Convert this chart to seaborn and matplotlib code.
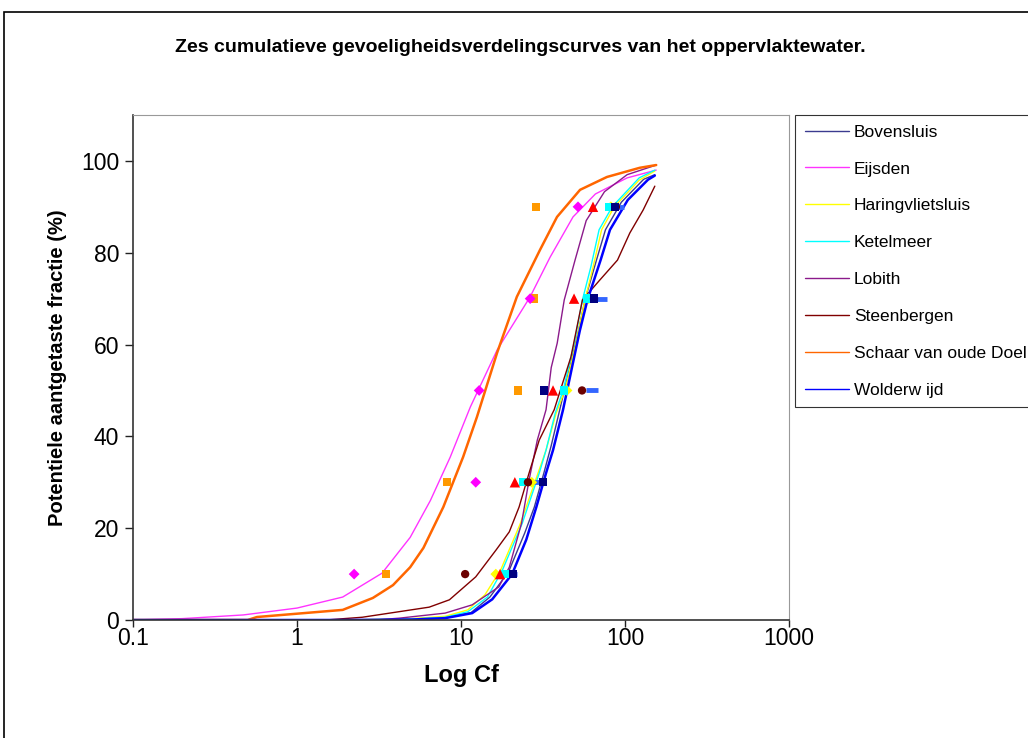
import numpy as np
import pandas as pd
import matplotlib
matplotlib.use("Agg")
import matplotlib.pyplot as plt
import seaborn as sns
from matplotlib.patches import Rectangle

# ---------------- data ----------------
title = "Zes cumulatieve gevoeligheidsverdelingscurves van het oppervlaktewater."
xlabel = "Log Cf"
ylabel = "Potentiele aantgetaste fractie (%)"
stations = ["Bovensluis", "Eijsden", "Haringvlietsluis", "Ketelmeer", "Lobith",
            "Steenbergen", "Schaar van oude Doel", "Wolderw ijd"]

bovensluis_x = [0.1, 2, 5, 8, 11.5, 15, 19.5, 24.5, 28, 32, 35.5, 40, 46, 52, 57, 67, 76, 95, 130, 152]
bovensluis_y = [0, 0, 0.1, 0.5, 1.6, 5, 10.5, 19, 24.6, 32, 38, 45.8, 55, 63, 69.7, 78.4, 85, 91, 96, 97]

eijsden_x = [0.1, 0.2, 0.47, 1.0, 1.9, 3.3, 4.9, 6.5, 8.6, 11.4, 16.6, 26.4, 34.9, 48.2, 66, 103, 155]
eijsden_y = [0, 0.3, 1.1, 2.6, 5, 10.2, 18, 26, 35.5, 46.4, 58.8, 70.4, 79, 87.8, 92.8, 96.3, 98]

haringvliet_x = [0.1, 2, 5, 8, 11, 14, 17.5, 23, 29.5, 33, 38, 43, 50, 57, 64, 72, 86, 122, 152]
haringvliet_y = [0, 0, 0.3, 0.8, 2.2, 5.5, 11, 21, 32, 37, 45, 50, 60, 69.7, 77, 85, 90, 95.8, 97.8]

ketelmeer_x = [0.1, 2, 5, 8, 11, 14.5, 17.9, 23.6, 30, 33, 37.5, 42, 49, 55, 62, 69.5, 83.5, 122, 152]
ketelmeer_y = [0, 0, 0.2, 0.6, 1.8, 5, 10.9, 21, 32, 37, 45, 50.1, 60.3, 69.7, 77, 85, 90, 96.3, 98]

lobith_x = [0.1, 3, 4.2, 8, 11.7, 17, 19.7, 23.4, 26, 29.2, 33, 35.5, 38.6, 42.6, 49.6, 58, 75, 103, 152]
lobith_y = [0, 0, 0.4, 1.5, 3.3, 7.2, 11.5, 21.1, 30.5, 39.2, 45.8, 55, 60.3, 69.7, 78.4, 87, 93.3, 97, 99]

steenbergen_x = [0.1, 1.5, 2.5, 6.4, 8.5, 12.3, 16.4, 19.7, 22.6, 26, 30, 37, 46.8, 55, 70, 90, 107, 129, 152]
steenbergen_y = [0, 0, 0.6, 2.8, 4.4, 9.4, 15.3, 19.2, 24.6, 32, 39.2, 45.8, 57.3, 69.7, 74, 78.4, 84.3, 89.3, 94.5]

schaar_x = [0.1, 0.5, 0.57, 1.9, 2.9, 3.85, 4.9, 5.9, 7.8, 10.3, 12.5, 16.6, 21.9, 30.3, 38.5, 53.2, 77.6, 123, 155]
schaar_y = [0, 0, 0.65, 2.2, 4.8, 7.6, 11.5, 15.7, 24.6, 35.5, 44.2, 58.2, 70.4, 80.6, 87.8, 93.7, 96.5, 98.5, 99.1]

wolderwijd_x = [0.1, 2, 5, 8, 11.7, 15.5, 20.5, 25, 28.8, 33, 36.4, 41.9, 47.5, 53, 59, 71, 81, 104, 138, 152]
wolderwijd_y = [0, 0, 0.1, 0.4, 1.5, 4.5, 10, 17.5, 24.6, 32, 37, 45.8, 55, 63, 69.7, 78.4, 85, 91.5, 95.9, 96.8]

# marker series (fractions 10..90 %)
levels = [10, 30, 50, 70, 90]
pts_orange_sq = [3.49, 8.2, 22.3, 27.9, 28.6]
pts_magenta_dia = [2.23, 12.3, 12.9, 26.4, 51.7]
pts_yellow_dia = [16.3, 27.0, 44.3, 60.0, 82.0]
pts_cyan_sq = [18.5, 23.9, 42.5, 58.6, 79.8]
pts_lightblue_dash = [20.2, 27.5, 63.0, 71.4, 90.6]
pts_darkred_circ = [10.6, 25.6, 54.7, 64.7, 88.0]
pts_red_tri = [17.3, 21.3, 36.4, 48.9, 63.8]
pts_navy_sq = [20.7, 31.6, 32.1, 64.7, 87.0]

# ---------------- styling ----------------
sns.set_style("white")
plt.rcParams['font.family'] = ['Liberation Sans', 'DejaVu Sans']
plt.rcParams['text.color'] = 'black'
plt.rcParams['axes.labelcolor'] = 'black'
plt.rcParams['xtick.color'] = 'black'
plt.rcParams['ytick.color'] = 'black'

fig = plt.figure(figsize=(10.28, 7.38), dpi=100)
ax = fig.add_axes([133/1028, (738-620)/738, 656/1028, 505/738])

curves = [
    ("Bovensluis", bovensluis_x, bovensluis_y, "#3b3b8f", 1.0),
    ("Eijsden", eijsden_x, eijsden_y, "#ff33ff", 1.0),
    ("Haringvlietsluis", haringvliet_x, haringvliet_y, "#ffff00", 1.0),
    ("Ketelmeer", ketelmeer_x, ketelmeer_y, "#00ffff", 1.0),
    ("Lobith", lobith_x, lobith_y, "#8b1a8b", 1.0),
    ("Steenbergen", steenbergen_x, steenbergen_y, "#800000", 1.0),
    ("Schaar van oude Doel", schaar_x, schaar_y, "#ff6600", 1.8),
    ("Wolderw ijd", wolderwijd_x, wolderwijd_y, "#0000ff", 1.8),
]
for name, xs, ys, col, lw in curves:
    df = pd.DataFrame({"x": xs, "y": ys})
    sns.lineplot(data=df, x="x", y="y", ax=ax, color=col, linewidth=lw,
                 label=name, sort=False, estimator=None)

markers = [
    (pts_lightblue_dash, "_", "#3366ff", 9, 3.5),
    (pts_orange_sq, "s", "#ff9900", 6, 0),
    (pts_magenta_dia, "D", "#ff00ff", 5.5, 0),
    (pts_yellow_dia, "D", "#ffff00", 5.5, 0),
    (pts_cyan_sq, "s", "#00ffff", 6, 0),
    (pts_darkred_circ, "o", "#6b0000", 6, 0),
    (pts_navy_sq, "s", "#000080", 6, 0),
    (pts_red_tri, "^", "#ff0000", 7.5, 0),
]
for xs, mk, col, ms, mew in markers:
    dfm = pd.DataFrame({"x": xs, "y": levels})
    if mk == "_":
        ax.plot(dfm["x"], dfm["y"], linestyle="none", marker=mk, color=col,
                markersize=ms, markeredgewidth=mew, zorder=5)
    else:
        sns.scatterplot(data=dfm, x="x", y="y", ax=ax, marker=mk, color=col,
                        s=ms**2, edgecolor="none", linewidth=0, zorder=5, legend=False)

ax.set_xscale("log")
ax.set_xlim(0.1, 1000)
ax.set_ylim(0, 110)
ax.set_xticks([0.1, 1, 10, 100, 1000])
ax.set_xticklabels(["0.1", "1", "10", "100", "1000"])
ax.xaxis.set_minor_locator(matplotlib.ticker.NullLocator())
ax.set_yticks([0, 20, 40, 60, 80, 100])
ax.set_yticklabels(["0", "20", "40", "60", "80", "100"])
ax.tick_params(axis="both", which="major", labelsize=16.5, length=6, width=1,
               direction="out", color="#222222", labelcolor="black",
               bottom=True, left=True)
ax.tick_params(axis="x", pad=0, length=5)
ax.tick_params(axis="y", pad=4)
ax.set_xlabel(xlabel, fontsize=17, fontweight="bold", labelpad=10)
ax.set_ylabel(ylabel, fontsize=14.5, fontweight="bold", labelpad=10)

for s in ["left", "bottom"]:
    ax.spines[s].set_color("#333333")
    ax.spines[s].set_linewidth(1.2)
for s in ["top", "right"]:
    ax.spines[s].set_color("#999999")
    ax.spines[s].set_linewidth(0.8)

leg = ax.legend(loc="upper left", bbox_to_anchor=(795/1028, (738-115)/738),
                bbox_transform=fig.transFigure, fontsize=12.5, frameon=True,
                fancybox=False, edgecolor="#000000", borderpad=0.55,
                labelspacing=1.25, handlelength=2.55, handletextpad=0.3,
                borderaxespad=0)
leg.get_frame().set_linewidth(0.8)
for h in leg.get_lines():
    h.set_linewidth(1.0)

fig.text(520/1028, 1 - 47/738, title, ha="center", va="center",
         fontsize=14, fontweight="bold")

# outer chart border
fig.add_artist(Rectangle((4/1028, -0.01), 1.1, (738-12)/738 + 0.01,
                         transform=fig.transFigure, fill=False,
                         edgecolor="#000000", linewidth=1.2, clip_on=False))

fig.savefig("out.png", dpi=100)
